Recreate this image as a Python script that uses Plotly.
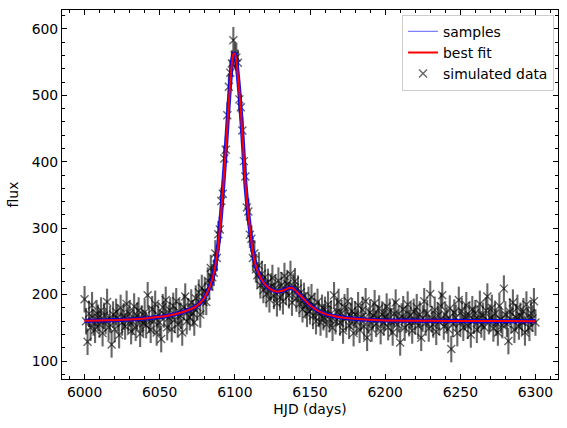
import plotly.graph_objects as go

# ---------------- data ----------------
HJD = list(range(6000, 6301))

FLUX = [
    193, 160, 129, 171, 150, 184, 158, 147, 172, 165,
    155, 176, 142, 168, 160, 189, 151, 163, 125, 170,
    148, 174, 165, 139, 180, 158, 167, 152, 186, 161,
    171, 145, 159, 182, 150, 168, 176, 141, 164, 157,
    173, 154, 199, 162, 147, 178, 160, 186, 143, 169,
    158, 133, 181, 170, 192, 151, 165, 176, 148, 183,
    162, 190, 155, 174, 168, 143, 181, 197, 160, 175,
    166, 188, 172, 158, 194, 181, 203, 170, 210, 189,
    205, 189, 221, 212, 240, 226, 233, 262, 255, 291,
    298, 341, 352, 405, 418, 470, 513, 534, 548, 583,
    560, 557, 549, 494, 482, 447, 401, 378, 331, 325,
    290, 284, 255, 262, 238, 229, 244, 214, 231, 207,
    226, 201, 219, 193, 212, 225, 198, 210, 187, 221,
    196, 214, 190, 228, 205, 216, 199, 231, 188, 212,
    220, 194, 209, 186, 203, 178, 198, 184, 171, 192,
    175, 196, 168, 183, 160, 189, 171, 158, 180, 166,
    177, 155, 185, 163, 171, 150, 199, 160, 174, 189,
    158, 172, 146, 181, 164, 190, 153, 168, 175, 142,
    170, 159, 184, 147, 166, 177, 152, 190, 135, 161,
    173, 149, 168, 187, 156, 164, 179, 145, 170, 158,
    166, 182, 151, 174, 160, 143, 171, 188, 155, 163,
    128, 167, 178, 150, 162, 185, 157, 169, 146, 174,
    160, 181, 153, 170, 135, 164, 190, 158, 172, 149,
    201, 163, 155, 177, 144, 168, 159, 183, 199, 152,
    170, 161, 148, 179, 118, 156, 173, 165, 142, 192,
    158, 175, 150, 166, 184, 153, 169, 140, 178, 161,
    172, 147, 163, 186, 155, 168, 151, 176, 197, 160,
    165, 180, 149, 171, 158, 143, 183, 162, 154, 209,
    170, 156, 130, 174, 162, 188, 147, 166, 180, 152,
    168, 159, 175, 143, 185, 161, 150, 172, 164, 190,
    158,
]
FLUX_ERR = 20

MODEL_T = [6000, 6010, 6020, 6030, 6040, 6050, 6055, 6060, 6065, 6070, 6074,
           6078, 6080, 6082, 6084, 6086, 6088, 6089, 6090, 6091, 6092, 6093,
           6094, 6095, 6096, 6097, 6098, 6099, 6100, 6101, 6102, 6103, 6104,
           6105, 6106, 6107, 6108, 6109, 6110, 6111, 6112, 6113, 6114, 6116,
           6118, 6121, 6124, 6127, 6130, 6133, 6136, 6138, 6140, 6143, 6146,
           6150, 6155, 6160, 6165, 6170, 6180, 6190, 6200, 6230, 6260, 6300]
MODEL_F = [160.5, 161, 161.5, 162.5, 164, 166.5, 168, 170.5, 173.5, 177.5, 182,
           190, 196, 205, 216, 232, 258, 276, 300, 326, 356, 388,
           420, 455, 490, 522, 548, 562, 563, 552, 530, 505, 475,
           442, 404, 368, 342, 320, 300, 281, 264, 252, 243, 231,
           222, 213, 208, 205, 205, 207, 210, 210, 207, 200, 193,
           184, 176, 171, 168, 166, 163.5, 162, 161, 160.5, 160.2, 160]

# ---------------- figure ----------------
FONT = "DejaVu Sans"
FS = 13.9
fig = go.Figure()

fig.add_trace(go.Scatter(
    x=HJD, y=FLUX, mode="markers", name="simulated data",
    marker=dict(symbol="x-thin", size=8, color="rgba(0,0,0,0.6)",
                line=dict(width=1.4, color="rgba(0,0,0,0.6)")),
    error_y=dict(type="constant", value=FLUX_ERR, width=0,
                 thickness=2.1, color="rgba(0,0,0,0.6)"),
    legendrank=3,
))

fig.add_trace(go.Scatter(
    x=MODEL_T, y=MODEL_F, mode="lines", showlegend=False,
    line=dict(color="rgba(0,0,235,0.9)", width=4.2, shape="spline", smoothing=0.6),
))
fig.add_trace(go.Scatter(
    x=[None], y=[None], mode="lines", name="samples",
    line=dict(color="rgba(0,0,255,0.5)", width=1.4), legendrank=1,
))
fig.add_trace(go.Scatter(
    x=MODEL_T, y=MODEL_F, mode="lines", name="best fit",
    line=dict(color="red", width=2.0, shape="spline", smoothing=0.6),
    legendrank=2,
))

axis_common = dict(
    showgrid=False, zeroline=False, showline=True, linecolor="black",
    linewidth=1.1, mirror="allticks", ticks="inside", ticklen=4.9,
    tickwidth=1.1, tickcolor="black",
    tickfont=dict(family=FONT, size=FS, color="black"),
)

fig.update_xaxes(
    **axis_common, range=[5985, 6315], tick0=6000, dtick=50,
    minor=dict(ticks="inside", ticklen=2.8, dtick=10, tick0=6000,
               tickcolor="black", tickwidth=0.8),
    title=dict(text="HJD (days)", font=dict(family=FONT, size=FS, color="black"),
               standoff=5),
)
fig.update_yaxes(
    **axis_common, range=[72.9, 628.6], tick0=0, dtick=100,
    minor=dict(ticks="inside", ticklen=2.8, dtick=20, tick0=0,
               tickcolor="black", tickwidth=0.8),
    title=dict(text="flux", font=dict(family=FONT, size=FS, color="black"),
               standoff=9),
)

fig.update_layout(
    width=567, height=428,
    margin=dict(l=62, r=9, t=10, b=49),
    plot_bgcolor="white", paper_bgcolor="white",
    font=dict(family=FONT, size=FS, color="black"),
    legend=dict(x=0.992, y=0.987, xanchor="right", yanchor="top",
                bgcolor="rgba(255,255,255,0.8)", bordercolor="#cccccc",
                borderwidth=1, font=dict(family=FONT, size=FS),
                itemwidth=30, tracegroupgap=0),
)

fig.write_html("out.html")
